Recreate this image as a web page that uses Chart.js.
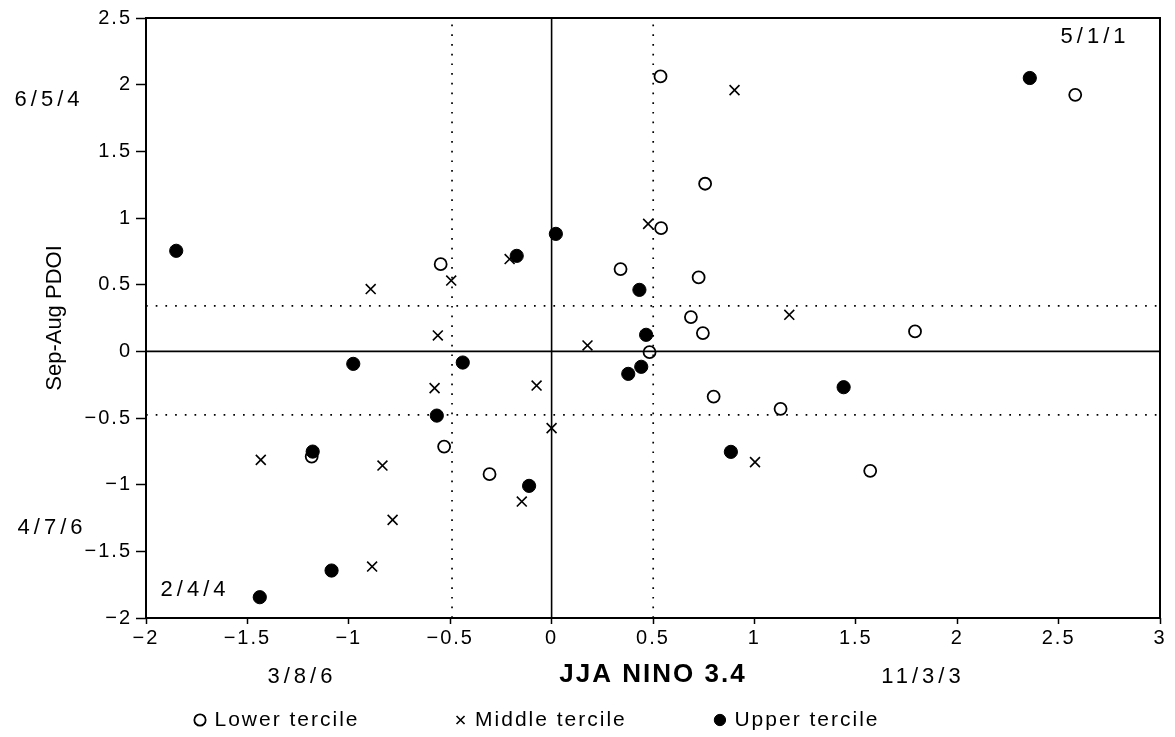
<!DOCTYPE html>
<html>
<head>
<meta charset="utf-8">
<script src="https://cdn.jsdelivr.net/npm/chart.js@4/dist/chart.umd.min.js"></script>
<style>
  html, body { margin: 0; padding: 0; background: #fff; }
  canvas { display: block; }
</style>
</head>
<body>
<canvas id="ninoPdoi" width="1175" height="737"></canvas>
<script>
// JJA NINO 3.4 (x) against Sep-Aug PDOI (y), split by tercile
var lowerTercile = [
  [-0.547, 0.654], [0.537, 2.062], [0.757, 1.257], [0.540, 0.924], [0.340, 0.617],
  [0.725, 0.554], [0.687, 0.257], [0.746, 0.137], [1.792, 0.149], [2.582, 1.924],
  [0.483, -0.006], [0.799, -0.339], [1.129, -0.431], [1.571, -0.896], [-0.530, -0.714],
  [-0.306, -0.921], [-1.183, -0.789]
];
var middleTercile = [
  [-0.495, 0.531], [-0.892, 0.467], [-0.207, 0.692], [0.476, 0.956], [0.902, 1.959],
  [1.172, 0.274], [0.177, 0.044], [1.003, -0.831], [0.0, -0.576], [-0.561, 0.119],
  [-0.577, -0.276], [-0.074, -0.257], [-0.147, -1.127], [-1.434, -0.814], [-0.834, -0.857],
  [-0.784, -1.264], [-0.885, -1.614]
];
var upperTercile = [
  [-1.851, 0.754], [-0.172, 0.716], [0.021, 0.881], [0.433, 0.461], [2.358, 2.050],
  [0.466, 0.124], [0.442, -0.116], [0.378, -0.169], [1.440, -0.269], [0.884, -0.754],
  [-0.978, -0.094], [-0.438, -0.084], [-0.566, -0.482], [-0.111, -1.009], [-1.178, -0.752],
  [-1.085, -1.644], [-1.439, -1.844]
];

// tercile boundaries (dotted lines)
var ninoBreaks = [-0.491, 0.501];
var pdoiBreaks = [-0.476, 0.341];

var xRange = [-2, 3];
var yRange = [-2, 2.5];

// counts written round the quadrants
var quadrantCounts = [
  { text: '6/5/4', x: -2.488, y: 1.885 },
  { text: '4/7/6', x: -2.473, y: -1.325 },
  { text: '2/4/4', x: -1.768, y: -1.790 },
  { text: '5/1/1', x: 2.670, y: 2.358 },
  { text: '3/8/6', x: -1.241, y: -2.443 },
  { text: '11/3/3', x: 1.821, y: -2.443 }
];

function toPoints(rows) {
  return rows.map(function (r) { return { x: r[0], y: r[1] }; });
}

function fmtTick(v) {
  return v < 0 ? '\u2212' + Math.abs(v) : String(v);
}

function refLine(points, dashed) {
  return {
    type: 'line',
    data: points,
    borderColor: '#000',
    borderWidth: dashed ? 1.7 : 1.6,
    borderDash: dashed ? [1.7, 8] : [],
    pointRadius: 0,
    fill: false,
    order: 10
  };
}

var datasets = [
  {
    label: 'Lower tercile      ',
    data: toPoints(lowerTercile),
    pointStyle: 'circle',
    pointRadius: 6,
    borderColor: '#000',
    backgroundColor: 'rgba(0,0,0,0)',
    borderWidth: 1.8,
    order: 3
  },
  {
    label: 'Middle tercile     ',
    data: toPoints(middleTercile),
    pointStyle: 'crossRot',
    pointRadius: 7,
    borderColor: '#000',
    backgroundColor: '#000',
    borderWidth: 1.6,
    order: 2
  },
  {
    label: 'Upper tercile',
    data: toPoints(upperTercile),
    pointStyle: 'circle',
    pointRadius: 6.6,
    borderColor: '#000',
    backgroundColor: '#000',
    borderWidth: 1,
    order: 1
  },
  refLine([{ x: xRange[0], y: 0 }, { x: xRange[1], y: 0 }], false),
  refLine([{ x: 0, y: yRange[0] }, { x: 0, y: yRange[1] }], false)
];
ninoBreaks.forEach(function (b) {
  datasets.push(refLine([{ x: b, y: yRange[0] }, { x: b, y: yRange[1] }], true));
});
pdoiBreaks.forEach(function (b) {
  datasets.push(refLine([{ x: xRange[0], y: b }, { x: xRange[1], y: b }], true));
});

Chart.defaults.font.family = "'Liberation Sans', Arial, sans-serif";
Chart.defaults.color = '#000';

var chart = new Chart(document.getElementById('ninoPdoi'), {
  type: 'scatter',
  data: { datasets: datasets },
  options: {
    responsive: false,
    animation: false,
    events: [],
    layout: { padding: { top: 18, right: 15, bottom: -3.5, left: 0 } },
    plugins: {
      tooltip: { enabled: false },
      legend: {
        position: 'bottom',
        align: 'start',
        fullSize: false,
        labels: {
          usePointStyle: true,
          boxWidth: 8,
          boxHeight: 8,
          padding: 50,
          color: '#000',
          font: { size: 21 },
          filter: function (item) { return item.datasetIndex < 3; },
          sort: function (a, b) { return a.datasetIndex - b.datasetIndex; }
        }
      }
    },
    scales: {
      x: {
        type: 'linear',
        min: xRange[0],
        max: xRange[1],
        ticks: {
          stepSize: 0.5,
          autoSkip: false,
          maxRotation: 0,
          padding: 2,
          font: { size: 20 },
          callback: fmtTick
        },
        grid: { drawOnChartArea: false, tickLength: 6, tickWidth: 1.5, tickColor: '#000' },
        border: { display: false },
        title: {
          display: true,
          text: 'JJA NINO 3.4',
          font: { size: 26, weight: 'bold' },
          padding: { top: 0, bottom: -31 }
        },
        afterFit: function (s) { s.height = 41.5; }
      },
      y: {
        type: 'linear',
        min: yRange[0],
        max: yRange[1],
        ticks: {
          stepSize: 0.5,
          autoSkip: false,
          padding: 4,
          font: { size: 20 },
          callback: fmtTick
        },
        grid: { drawOnChartArea: false, tickLength: 10, tickWidth: 1.5, tickColor: '#000' },
        border: { display: false },
        afterFit: function (s) { s.width = 146; }
      }
    }
  },
  plugins: [{
    id: 'scanLook',
    beforeLayout: function (c) { c.ctx.letterSpacing = '2px'; },
    beforeDraw: function (c) {
      var ctx = c.ctx;
      ctx.save();
      ctx.fillStyle = '#fff';
      ctx.fillRect(0, 0, c.width, c.height);
      ctx.restore();
      ctx.letterSpacing = '2px';
    },
    afterDraw: function (c) {
      var ctx = c.ctx, a = c.chartArea, sx = c.scales.x, sy = c.scales.y;
      ctx.save();
      // plot frame
      ctx.strokeStyle = '#000';
      ctx.lineWidth = 2;
      ctx.strokeRect(a.left, a.top, a.right - a.left, a.bottom - a.top);
      // quadrant counts
      ctx.fillStyle = '#000';
      ctx.font = "22px 'Liberation Sans', Arial, sans-serif";
      ctx.letterSpacing = '4px';
      ctx.textAlign = 'center';
      ctx.textBaseline = 'middle';
      quadrantCounts.forEach(function (q) {
        ctx.fillText(q.text, sx.getPixelForValue(q.x) + 2, sy.getPixelForValue(q.y));
      });
      // y axis title
      ctx.letterSpacing = '0px';
      ctx.font = "22px 'Liberation Sans', Arial, sans-serif";
      ctx.translate(55, (a.top + a.bottom) / 2);
      ctx.rotate(-Math.PI / 2);
      ctx.fillText('Sep-Aug PDOI', 0, 0);
      ctx.restore();
    }
  }]
});
</script>
</body>
</html>
